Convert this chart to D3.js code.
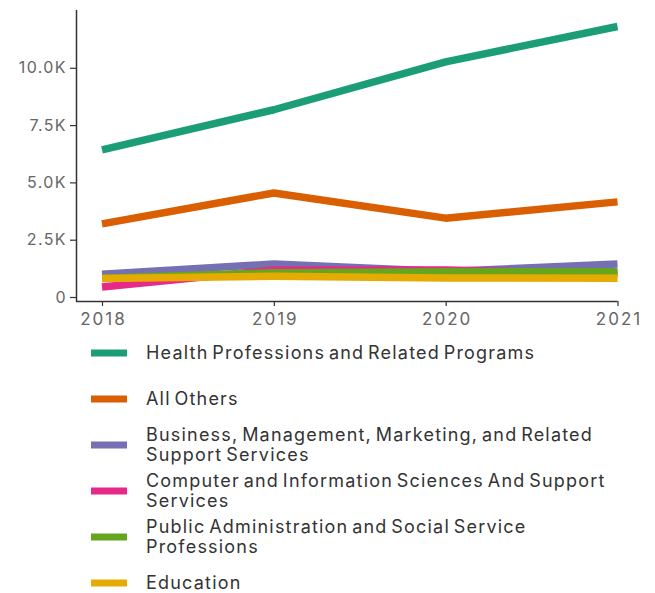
<!DOCTYPE html>
<html>
<head>
<meta charset="utf-8">
<script src="https://cdn.jsdelivr.net/npm/d3@7"></script>
<style>
  html, body { margin: 0; padding: 0; background: #fff; }
  svg { display: block; }
  .tick text { font-family: Inter, "Noto Sans", sans-serif; }
</style>
</head>
<body>
<svg id="chart" width="655" height="593"></svg>
<script>
// ---- data ----
const years = [2018, 2019, 2020, 2021];
const seriesNames = [
  "Health Professions and Related Programs",
  "All Others",
  "Business, Management, Marketing, and Related Support Services",
  "Computer and Information Sciences And Support Services",
  "Public Administration and Social Service Professions",
  "Education"
];
const legendLines = [
  ["Health Professions and Related Programs"],
  ["All Others"],
  ["Business, Management, Marketing, and Related", "Support Services"],
  ["Computer and Information Sciences And Support", "Services"],
  ["Public Administration and Social Service", "Professions"],
  ["Education"]
];
const health = [6420, 8170, 10260, 11800];
const allOthers = [3190, 4540, 3440, 4150];
const business = [990, 1440, 1110, 1440];
const computer = [440, 1180, 1180, 1000];
const publicAdmin = [820, 1060, 1100, 1100];
const education = [810, 900, 830, 820];
const colors = ["#1b9e77", "#d95f02", "#7570b3", "#e7298a", "#66a61e", "#e6ab02"];
const yTicks = [0, 2500, 5000, 7500, 10000];

const allSeries = [health, allOthers, business, computer, publicAdmin, education];

// ---- layout ----
const svg = d3.select("#chart");
const x = d3.scaleLinear().domain([2018, 2021]).range([102, 617.5]);
const y = d3.scaleLinear().domain([0, 12500]).range([297, 10.5]);

const font = "Inter, 'Noto Sans', sans-serif";

// y axis
const yAxis = svg.append("g")
  .attr("transform", "translate(76,0)")
  .call(d3.axisLeft(y).tickValues(yTicks).tickSize(6).tickSizeOuter(0)
    .tickFormat(d => d === 0 ? "0" : (d / 1000).toFixed(1) + "K"));
yAxis.select(".domain").attr("d", "M0.5,10V301.5").attr("stroke", "#333").attr("stroke-width", 1.5);
yAxis.selectAll(".tick line").attr("stroke", "#333").attr("stroke-width", 1.2);
yAxis.selectAll(".tick text").attr("font-size", 16).attr("letter-spacing", 1.4)
  .attr("fill", "#666").attr("x", -9);

// x axis
const xAxis = svg.append("g")
  .attr("transform", "translate(0,301)")
  .call(d3.axisBottom(x).tickValues(years).tickSize(5).tickSizeOuter(0).tickFormat(d3.format("d")));
xAxis.select(".domain").attr("d", "M76,0.5H617.5").attr("stroke", "#333").attr("stroke-width", 1.5);
xAxis.selectAll(".tick line").attr("stroke", "#333").attr("stroke-width", 1.2);
xAxis.selectAll(".tick text").attr("font-size", 17).attr("letter-spacing", 2)
  .attr("fill", "#666").attr("dy", "0.95em").attr("dx", 1);

// lines
const line = d3.line().x((d, i) => x(years[i])).y(d => y(d));
svg.append("g").selectAll("path")
  .data(allSeries)
  .join("path")
  .attr("d", d => line(d))
  .attr("fill", "none")
  .attr("stroke", (d, i) => colors[i])
  .attr("stroke-width", 7.5)
  .attr("stroke-linecap", "butt")
  .attr("stroke-linejoin", "round");

// legend
const legendCenters = [353, 399, 445, 491, 537, 583];
const lg = svg.append("g");
legendLines.forEach((lines, i) => {
  const cy = legendCenters[i];
  lg.append("rect")
    .attr("x", 91).attr("y", cy - 3.5).attr("width", 36).attr("height", 7)
    .attr("fill", colors[i]);
  const n = lines.length;
  lines.forEach((t, j) => {
    lg.append("text")
      .attr("x", 146)
      .attr("y", cy + (j - (n - 1) / 2) * 20)
      .attr("dy", "0.36em")
      .attr("font-family", font)
      .attr("font-size", 18)
      .attr("letter-spacing", 1.2)
      .attr("word-spacing", -2.5)
      .attr("fill", "#333")
      .text(t);
  });
});
</script>
</body>
</html>
